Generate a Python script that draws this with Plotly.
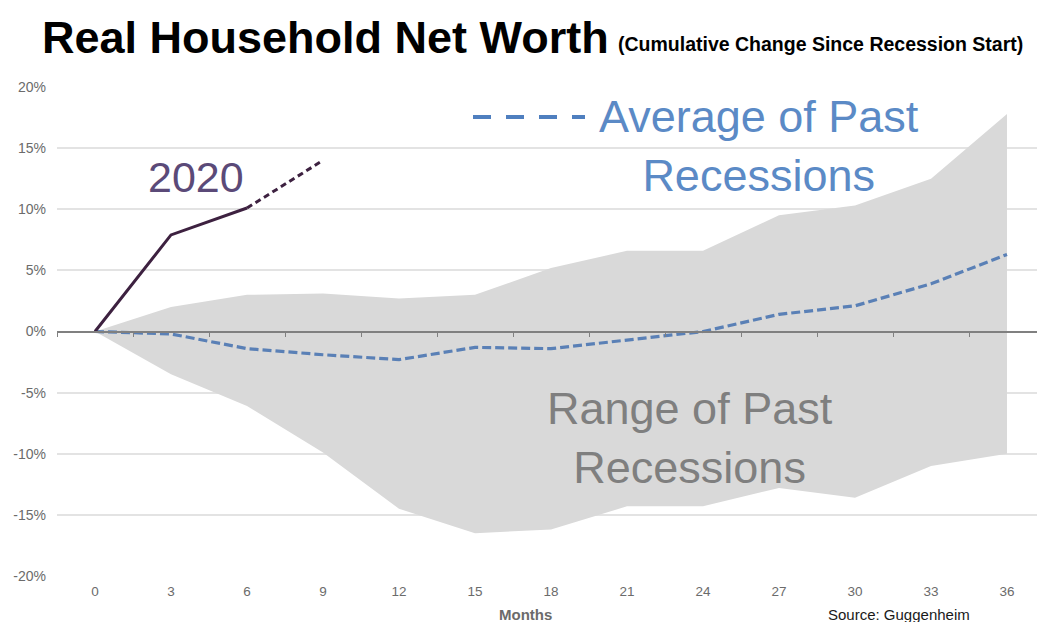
import plotly.graph_objects as go

# ---------------- data ----------------
months = [0, 3, 6, 9, 12, 15, 18, 21, 24, 27, 30, 33, 36]
range_upper = [0, 2.0, 3.0, 3.1, 2.7, 3.0, 5.2, 6.6, 6.6, 9.5, 10.3, 12.5, 17.8]
range_lower = [0, -3.5, -6.1, -9.9, -14.5, -16.5, -16.2, -14.3, -14.3, -12.8, -13.6, -11.0, -10.0]
average_past = [0, -0.2, -1.4, -1.9, -2.3, -1.3, -1.4, -0.7, 0.0, 1.4, 2.1, 3.9, 6.3]
months_2020 = [0, 3, 6, 9]
values_2020 = [0, 7.9, 10.1, 14.0]
y_ticks = [-20, -15, -10, -5, 0, 5, 10, 15, 20]
y_tick_labels = [f"{v}%" for v in y_ticks]

# ---------------- layout geometry ----------------
W, H = 1037, 622
ML, MR, MT, MB = 57, 0, 87, 46
PW, PH = W - ML - MR, H - MT - MB


def px_x(px):
    return (px - ML) / PW


def px_y(py):
    return (H - MB - py) / PH


FONT = "Liberation Sans, Arial, sans-serif"
GRAY_FILL = "#d9d9d9"
AVG_BLUE = "#5a80b6"
LINE_2020 = "#3d2140"

fig = go.Figure()

# range band
fig.add_trace(go.Scatter(x=months, y=range_lower, mode="lines",
                         line=dict(width=0, color=GRAY_FILL), hoverinfo="skip",
                         showlegend=False))
fig.add_trace(go.Scatter(x=months, y=range_upper, mode="lines", fill="tonexty",
                         fillcolor=GRAY_FILL, line=dict(width=0, color=GRAY_FILL),
                         showlegend=False, name="Range of Past Recessions"))

# average of past recessions
fig.add_trace(go.Scatter(x=months, y=average_past, mode="lines",
                         line=dict(color=AVG_BLUE, width=3.2, dash="9px,4px"),
                         showlegend=False, name="Average of Past Recessions"))

# 2020 (solid through month 6, dashed after)
fig.add_trace(go.Scatter(x=months_2020[:3], y=values_2020[:3], mode="lines",
                         line=dict(color=LINE_2020, width=3),
                         showlegend=False, name="2020"))
fig.add_trace(go.Scatter(x=months_2020[2:], y=values_2020[2:], mode="lines",
                         line=dict(color=LINE_2020, width=3, dash="6px,4px"),
                         showlegend=False, name="2020 (est.)"))

# dummy trace on xaxis2 (zero axis line with ticks)
fig.add_trace(go.Scatter(x=[months[0]], y=[0], xaxis="x2", mode="markers",
                         marker=dict(opacity=0), showlegend=False, hoverinfo="skip"))

x_range = [-1.5, -1.5 + PW / ((95 - 57) / 1.5)]

fig.update_layout(
    width=W, height=H, autosize=False,
    margin=dict(l=ML, r=MR, t=MT, b=MB, pad=0),
    plot_bgcolor="white", paper_bgcolor="white",
    font=dict(family=FONT),
    showlegend=False,
    xaxis=dict(
        range=x_range, tickvals=months, ticktext=[str(m) for m in months],
        showgrid=False, zeroline=False, showline=False, ticks="",
        tickfont=dict(size=13.5, color="#6b6b6b", family=FONT),
        ticklabelstandoff=5,
    ),
    xaxis2=dict(
        range=x_range, overlaying="x", anchor="free", position=0.5, side="bottom",
        tickvals=[m - 1.5 for m in months], showticklabels=False,
        ticks="outside", ticklen=5, tickcolor="#808080", tickwidth=1,
        showline=True, linecolor="#808080", linewidth=1.5,
        showgrid=False, zeroline=False,
    ),
    yaxis=dict(
        range=[-20, 20], tickvals=y_ticks, ticktext=y_tick_labels,
        showgrid=True, gridcolor="#e3e3e3", gridwidth=1.5, zeroline=False,
        showline=False, ticks="",
        tickfont=dict(size=14, color="#6b6b6b", family=FONT),
        ticklabelstandoff=10,
    ),
)

annotations = [
    dict(text="<b>Real Household Net Worth</b>", xref="paper", yref="paper",
         x=px_x(40), y=px_y(37), xanchor="left", yanchor="middle", showarrow=False,
         font=dict(size=45, color="#000000", family=FONT)),
    dict(text="<b>(Cumulative Change Since Recession Start)</b>", xref="paper", yref="paper",
         x=px_x(1025), y=px_y(44), xanchor="right", yanchor="middle", showarrow=False,
         font=dict(size=19.5, color="#000000", family=FONT)),
    dict(text="2020", xref="x", yref="y", x=4.0, y=12.6, xanchor="center",
         yanchor="middle", showarrow=False,
         font=dict(size=43, color="#5b4a78", family=FONT)),
    dict(text="Average of Past<br>Recessions", xref="x", yref="y", x=26.2, y=15.2,
         xanchor="center", yanchor="middle", showarrow=False, align="center",
         font=dict(size=45, color="#5b8ac6", family=FONT)),
    dict(text="Range of Past<br>Recessions", xref="x", yref="y", x=23.5, y=-8.7,
         xanchor="center", yanchor="middle", showarrow=False, align="center",
         font=dict(size=45, color="#7f7f7f", family=FONT)),
    dict(text="<b>Months</b>", xref="paper", yref="paper", x=px_x(525), y=px_y(614),
         xanchor="center", yanchor="middle", showarrow=False,
         font=dict(size=15, color="#6b6b6b", family=FONT)),
    dict(text="Source: Guggenheim", xref="paper", yref="paper", x=px_x(826), y=px_y(614),
         xanchor="left", yanchor="middle", showarrow=False,
         font=dict(size=15, color="#1a1a1a", family=FONT)),
]
fig.update_layout(annotations=annotations)

# legend sample for the average line
fig.add_shape(type="line", xref="paper", yref="paper",
              x0=px_x(473), x1=px_x(585), y0=px_y(117), y1=px_y(117),
              line=dict(color="#4f7fbf", width=4, dash="18px,15px"))

fig.write_html("out.html")
